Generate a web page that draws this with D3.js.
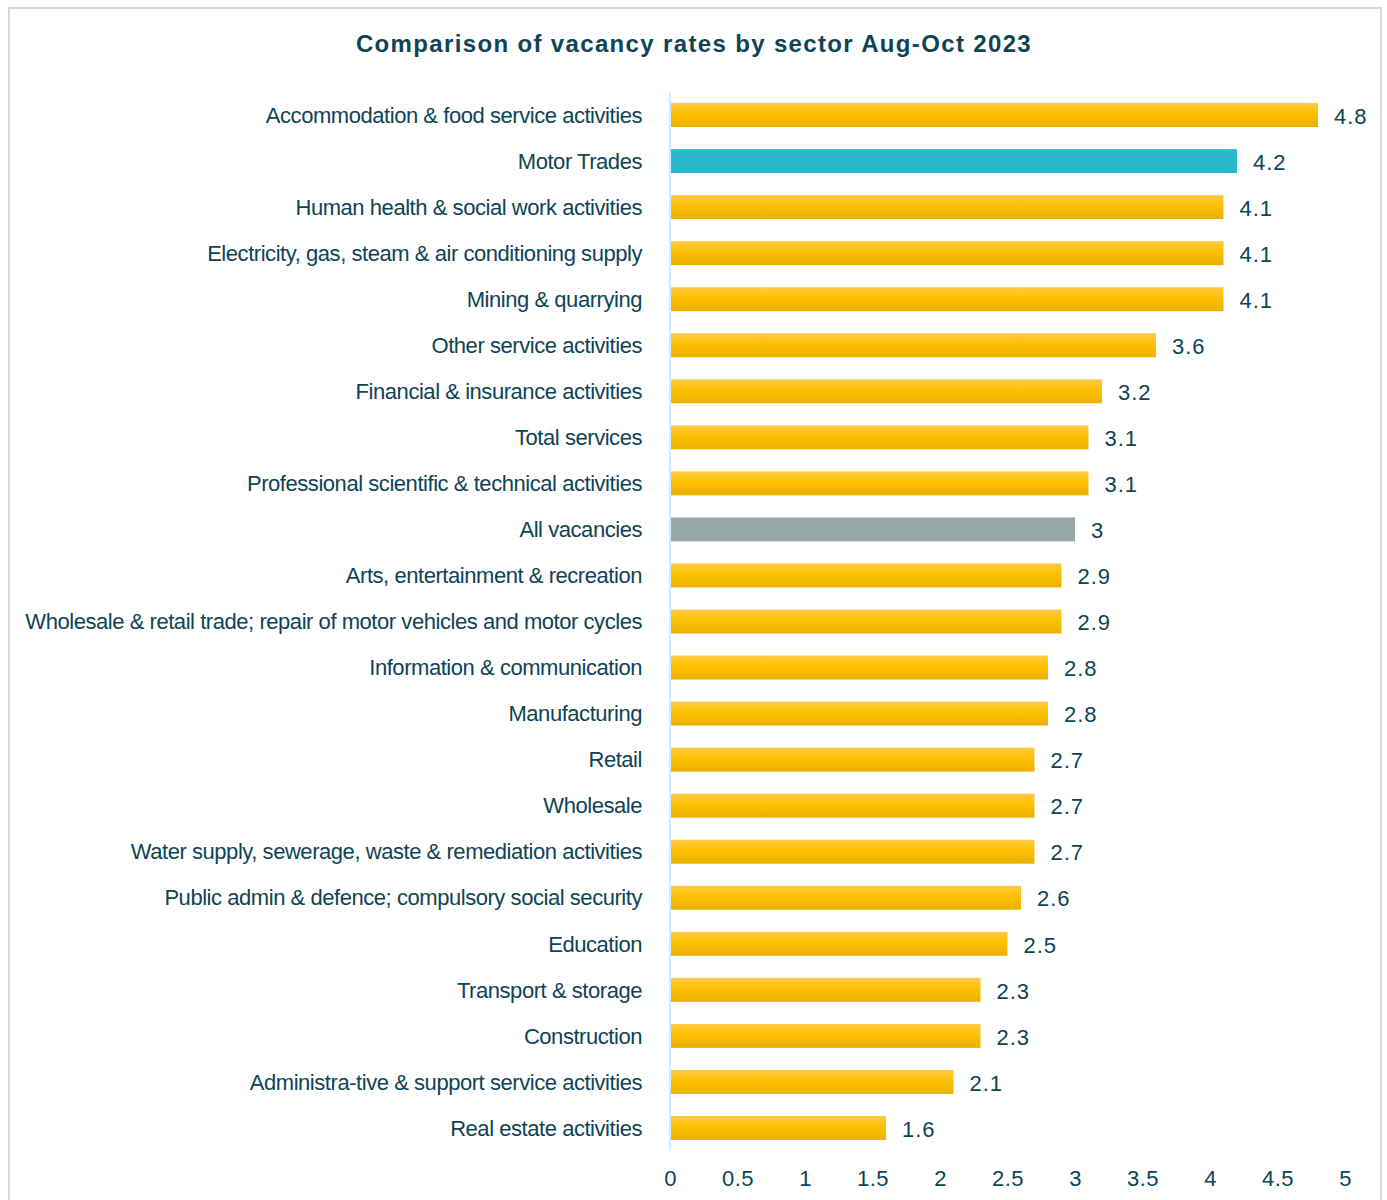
<!DOCTYPE html>
<html><head><meta charset="utf-8">
<script src="https://cdn.jsdelivr.net/npm/d3@7"></script>
<style>body{margin:0;background:#fff}svg{display:block;font-family:"Liberation Sans",Arial,sans-serif}</style>
</head><body>
<script>
const categories = ["Accommodation & food service activities","Motor Trades","Human health & social work activities","Electricity, gas, steam & air conditioning supply","Mining & quarrying","Other service activities","Financial & insurance activities","Total services ","Professional scientific & technical activities","All vacancies","Arts, entertainment & recreation","Wholesale & retail trade; repair of motor vehicles and motor cycles","Information & communication","Manufacturing","Retail","Wholesale","Water supply, sewerage, waste & remediation activities","Public admin & defence; compulsory social security","Education","Transport & storage","Construction","Administra-tive & support service activities","Real estate activities"];
const values = [4.8,4.2,4.1,4.1,4.1,3.6,3.2,3.1,3.1,3,2.9,2.9,2.8,2.8,2.7,2.7,2.7,2.6,2.5,2.3,2.3,2.1,1.6];
const xTicks = [0,0.5,1,1.5,2,2.5,3,3.5,4,4.5,5];
const title = "Comparison of vacancy rates by sector Aug-Oct 2023";

const W=1387,H=1200;
const svg=d3.select("body").append("svg").attr("width",W).attr("height",H);
const defs=svg.append("defs");
const g=defs.append("linearGradient").attr("id","gold").attr("x1",0).attr("y1",0).attr("x2",0).attr("y2",1);
g.append("stop").attr("offset","0%").attr("stop-color","#ffca45");
g.append("stop").attr("offset","45%").attr("stop-color","#ffc000");
g.append("stop").attr("offset","100%").attr("stop-color","#e8b000");

svg.append("rect").attr("x",9).attr("y",8).attr("width",1372).attr("height",1220).attr("fill","#fff").attr("stroke","#d9d9d9").attr("stroke-width",2);

const x=d3.scaleLinear().domain([0,5]).range([670,1345]);
const y=d3.scaleBand().domain(categories).range([92,1151]).paddingInner(0.48).paddingOuter(0.24);
const col="#0e4455";

svg.append("text").attr("x",694).attr("y",52).attr("text-anchor","middle").attr("font-size",24).attr("letter-spacing","1.35px").attr("font-weight","bold").attr("fill",col).text(title);

svg.selectAll(".bar").data(categories).join("rect")
 .attr("x",x(0)+1).attr("y",d=>y(d)).attr("height",y.bandwidth())
 .attr("width",(d,i)=>x(values[i])-x(0)-1)
 .attr("fill",(d,i)=>d==="Motor Trades"?"#29b8cc":d==="All vacancies"?"#97a8a6":"url(#gold)");

svg.append("line").attr("x1",x(0)).attr("x2",x(0)).attr("y1",92).attr("y2",1151).attr("stroke","#c9f0ff").attr("stroke-width",2);

svg.selectAll(".cat").data(categories).join("text")
 .attr("x",642).attr("y",d=>y(d)+y.bandwidth()/2).attr("dy","0.35em")
 .attr("text-anchor","end").attr("font-size",22).attr("letter-spacing","-0.45px").attr("fill",col).text(d=>d);

svg.selectAll(".val").data(categories).join("text")
 .attr("x",(d,i)=>x(values[i])+16).attr("y",d=>y(d)+y.bandwidth()/2+1).attr("dy","0.35em")
 .attr("font-size",22).attr("letter-spacing","1px").attr("fill",col).text((d,i)=>values[i]);

const ax=svg.append("g").attr("transform","translate(0,1161)").call(d3.axisBottom(x).tickValues(xTicks).tickSize(0).tickPadding(0).tickFormat(d3.format("")));
ax.select(".domain").remove();
ax.selectAll("text").attr("font-size",22).attr("letter-spacing","0.5px").attr("fill",col).attr("font-family","'Liberation Sans',Arial,sans-serif").attr("dy","0.75em").attr("y",8);
</script>
</body></html>
